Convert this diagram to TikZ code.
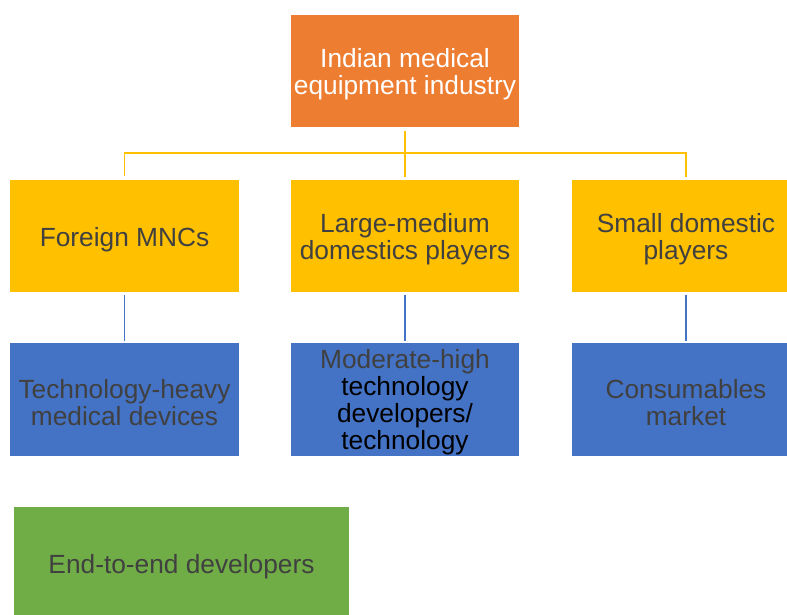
\documentclass[tikz,border=0pt]{standalone}
\usepackage{fontspec}
\setmainfont{Liberation Sans}
\usetikzlibrary{positioning}
\definecolor{indorange}{HTML}{ED7D31}
\definecolor{indyellow}{HTML}{FFC000}
\definecolor{indblue}{HTML}{4472C4}
\definecolor{indgreen}{HTML}{70AD47}
\definecolor{indgray}{HTML}{404040}
% extra room above the first line, so the text sits a bit lower
\newcommand{\boxstrut}{\rule{0pt}{18.5pt}}

\begin{document}
\begin{tikzpicture}[x=0.025cm, y=-0.025cm, font=\fontsize{18.7}{19.2}\selectfont,
  box/.style={minimum width=5.7cm, minimum height=2.8cm, inner xsep=2pt, inner ysep=0pt, align=center, text=indgray},
  busline/.style={indyellow, line width=1.4pt, shorten <=2.5pt, shorten >=2pt},
  tieline/.style={indblue, line width=1.4pt, shorten <=2pt, shorten >=1.5pt}]
  \useasboundingbox (0,0) rectangle (787,614);
  \clip (0,0) rectangle (787,614);
  % top of the tree
  \node[box, fill=indorange, text=white] (industry) at (405,71) {\boxstrut Indian medical\\equipment industry};
  % player groups
  \node[box, fill=indyellow] (mncs) at (124.5,236) {\boxstrut Foreign MNCs};
  \node[box, fill=indyellow] (largemed) at (405,236) {\boxstrut Large-medium\\domestics players};
  \node[box, fill=indyellow] (smalldom) at (686,236) {\boxstrut Small domestic\\players};
  % what each group makes
  \node[box, fill=indblue] (techheavy) at (124.5,399.5) {\boxstrut Technology-heavy\\medical devices};
  \node[box, fill=indblue, text=black] (modhigh) at (405,399.5)
    {\rule{0pt}{17.5pt}\textcolor{indgray}{Moderate-high}\\technology\\developers/\\technology};
  \node[box, fill=indblue] (consum) at (686,399.5) {\boxstrut Consumables\\market};
  \node[box, fill=indgreen, minimum width=8.375cm] (endtoend) at (181.5,563) {\boxstrut End-to-end developers};
  % connectors
  \coordinate (bus) at (405,153);
  \draw[busline] (industry) -- (largemed);
  \draw[busline] (mncs.north) |- (bus) -| (smalldom.north);
  \draw[tieline] (mncs) -- (techheavy);
  \draw[tieline] (largemed) -- (modhigh);
  \draw[tieline] (smalldom) -- (consum);
\end{tikzpicture}
\end{document}
